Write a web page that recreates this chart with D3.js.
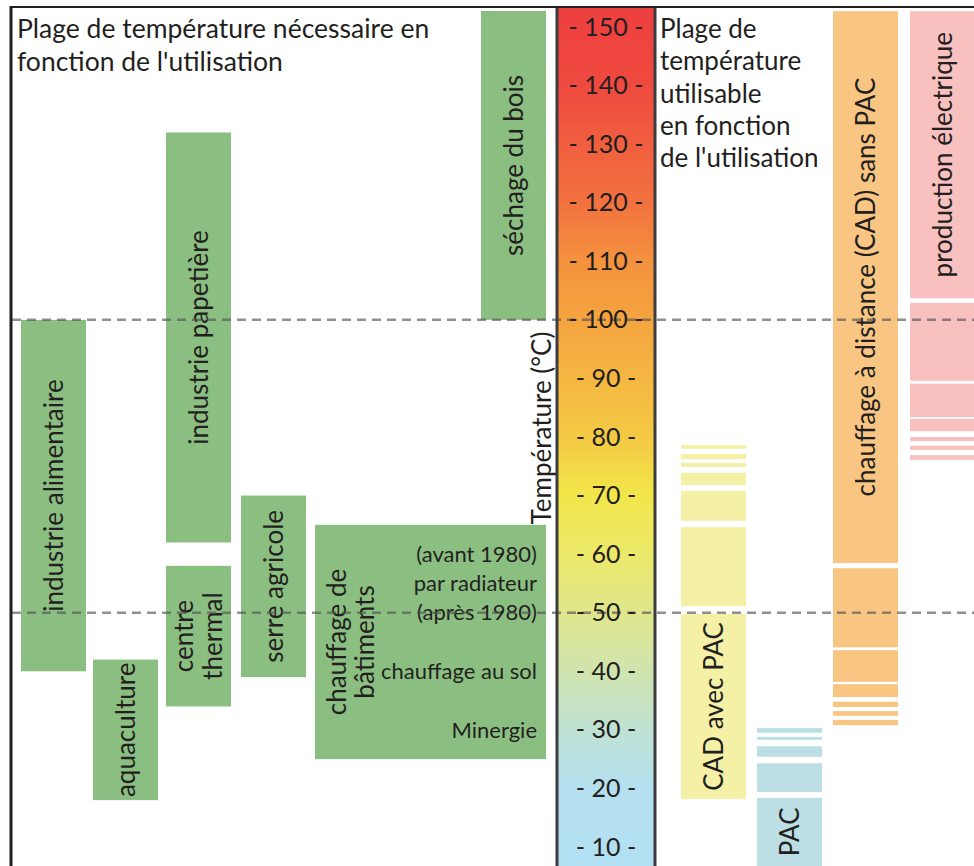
<!DOCTYPE html>
<html>
<head>
<meta charset="utf-8">
<script src="https://cdnjs.cloudflare.com/ajax/libs/d3/7.8.5/d3.min.js"></script>
<style>
  body { margin: 0; background: #fff; }
  text { font-family: Lato, "Open Sans", sans-serif; fill: #231f20; }
</style>
</head>
<body>
<div id="chart"></div>
<script>
// needed temperature ranges per use (°C)
const needNames = ["industrie alimentaire", "aquaculture", "industrie papetière", "centre\nthermal",
                   "serre agricole", "chauffage de\nbâtiments", "séchage du bois"];
const needLow  = [40, 18, 62, 34, 39, 25, 100];
const needHigh = [100, 42, 132, 58, 70, 65, 153];
const needLane = ["a", "b", "c", "c", "d", "e", "f"];

// notes inside the building heating box
const heatNotes = ["(avant 1980)", "par radiateur", "(après 1980)", "chauffage au sol", "Minergie"];
const heatNoteTemp = [60, 55, 50, 40, 30];

// usable temperature ranges (split in stripes)
const supplyNames = ["CAD avec PAC", "PAC", "chauffage à distance (CAD) sans PAC", "production électrique"];
const cadAvecPac = [[18.2, 49.8], [51.1, 64.6], [65.7, 70.8], [71.8, 73.9], [74.9, 75.6], [76.2, 77.1], [78.0, 78.6]];
const pac = [[5, 18.4], [19.4, 24.3], [25.4, 27.2], [28.3, 28.8], [29.5, 30.3]];
const cadSansPac = [[30.8, 31.7], [32.4, 33.2], [33.9, 34.8], [35.6, 37.8], [38.2, 43.6], [44.1, 57.6], [58.5, 152.7]];
const prodElec = [[76.1, 76.9], [77.8, 78.5], [79.3, 80.0], [81.0, 83.1], [83.4, 89.1], [89.6, 102.9], [103.7, 152.7]];
const supplyLabelSeg = [0, 0, 6, 6];

// temperature scale ticks
const tempTicks = d3.range(10, 151, 10);
const gradTemps  = [5, 20, 30, 40, 50, 60, 70, 80, 100, 110, 120, 140, 155];
const gradColors = ["#b3e0f3", "#b4e0ef", "#bfe2d4", "#d0e4ae", "#dfe68c", "#ece96a", "#f2e64a", "#f4c944", "#f5a43f", "#f4923e", "#f2723f", "#ef4a3f", "#ee3e3f"];

const width = 974, height = 866;

const svg = d3.select("#chart").append("svg")
    .attr("width", width)
    .attr("height", height);

const y = d3.scaleLinear().domain([10, 150]).range([847, 27]);

// lanes for the green boxes
const laneX = d3.scaleOrdinal().domain(["a", "b", "c", "d", "e", "f"]).range([21, 93, 166, 241, 315, 481]);
const laneW = 65;
const wideW = 231; // chauffage de bâtiments box
const supplyX = d3.scaleOrdinal().domain(supplyNames).range([681, 757, 833, 910]);

const colGreen = "#8bbf81";
const supplyColor = d3.scaleOrdinal().domain(supplyNames).range(["#f4f1a6", "#bcdfe5", "#f8c583", "#f8c0bf"]);

// gradient for the temperature column
const defs = svg.append("defs");
const grad = defs.append("linearGradient")
    .attr("id", "tempGrad")
    .attr("gradientUnits", "userSpaceOnUse")
    .attr("x1", 0).attr("x2", 0)
    .attr("y1", y(gradTemps[0])).attr("y2", y(gradTemps[gradTemps.length - 1]));
grad.selectAll("stop")
  .data(gradTemps)
  .enter().append("stop")
    .attr("offset", (d) => (d - gradTemps[0]) / (gradTemps[gradTemps.length - 1] - gradTemps[0]))
    .attr("stop-color", (d, i) => gradColors[i]);

svg.append("rect")
    .attr("x", 557).attr("y", 8)
    .attr("width", 98).attr("height", height - 8)
    .attr("fill", "url(#tempGrad)");

// green "need" boxes
const needData = needNames.map((n, i) => ({name: n, lo: needLow[i], hi: needHigh[i], lane: needLane[i], i: i}));
const boxW = (d) => d.i === 5 ? wideW : laneW;

svg.append("g").selectAll("rect")
  .data(needData)
  .enter().append("rect")
    .attr("x", (d) => laneX(d.lane))
    .attr("y", (d) => Math.max(y(d.hi), 11))
    .attr("width", boxW)
    .attr("height", (d) => y(d.lo) - Math.max(y(d.hi), 11))
    .attr("fill", colGreen);

// vertical labels of the green boxes
needData.forEach(function(d) {
  const lines = d.name.split("\n");
  let cx = laneX(d.lane) + laneW / 2;
  let cy = (Math.max(y(d.hi), 11) + y(d.lo)) / 2;
  if (d.i === 5) cx = laneX(d.lane) + 36;
  const t = svg.append("text")
      .attr("transform", `translate(${cx},${cy}) rotate(-90)`)
      .attr("text-anchor", "middle")
      .style("font-size", "26px");
  lines.forEach(function(l, k) {
    t.append("tspan")
      .attr("x", 0)
      .attr("dy", k === 0 ? (0.35 - (lines.length - 1) * 0.55) + "em" : "1.1em")
      .text(l);
  });
});

// notes in the building heating box
svg.append("g").selectAll("text")
  .data(heatNotes)
  .enter().append("text")
    .attr("x", laneX("e") + wideW - 9)
    .attr("y", (d, i) => y(heatNoteTemp[i]))
    .attr("dy", "0.35em")
    .attr("text-anchor", "end")
    .style("font-size", "22px")
    .text((d) => d);

// supply stripes
const supplySeries = [cadAvecPac, pac, cadSansPac, prodElec];
supplySeries.forEach(function(segs, s) {
  const name = supplyNames[s];
  svg.append("g").selectAll("rect")
    .data(segs)
    .enter().append("rect")
      .attr("x", supplyX(name))
      .attr("y", (d) => y(d[1]))
      .attr("width", s === 3 ? width - supplyX(name) : laneW)
      .attr("height", (d) => y(d[0]) - y(d[1]))
      .attr("fill", supplyColor(name));
  const seg = segs[supplyLabelSeg[s]];
  const cy = (Math.min(y(seg[0]), height) + y(seg[1])) / 2;
  svg.append("text")
      .attr("transform", `translate(${supplyX(name) + laneW / 2},${cy}) rotate(-90)`)
      .attr("text-anchor", "middle")
      .attr("dy", "0.35em")
      .style("font-size", "26px")
      .text(name);
});

// reference dashed lines at 100 and 50 °C
svg.append("g").selectAll("line")
  .data([100, 50])
  .enter().append("line")
    .attr("x1", 12).attr("x2", width)
    .attr("y1", (d) => y(d)).attr("y2", (d) => y(d))
    .attr("stroke", "#555")
    .attr("stroke-opacity", 0.65)
    .attr("stroke-width", 2.5)
    .attr("stroke-dasharray", "9,6");

// borders
svg.append("line").attr("x1", 557).attr("x2", 557).attr("y1", 7).attr("y2", height)
    .attr("stroke", "#3c3c3e").attr("stroke-width", 3);
svg.append("line").attr("x1", 655).attr("x2", 655).attr("y1", 7).attr("y2", height)
    .attr("stroke", "#3c3c3e").attr("stroke-width", 3);
svg.append("line").attr("x1", 11).attr("x2", 11).attr("y1", 6).attr("y2", height)
    .attr("stroke", "#231f20").attr("stroke-width", 3);
svg.append("line").attr("x1", 10).attr("x2", width).attr("y1", 7).attr("y2", 7)
    .attr("stroke", "#231f20").attr("stroke-width", 2);

// temperature ticks on the colour column
const axis = svg.append("g")
    .attr("transform", "translate(606,0)")
    .call(d3.axisRight(y).tickValues(tempTicks).tickSize(0).tickPadding(0).tickFormat((d) => `- ${d} -`));
axis.select(".domain").remove();
axis.selectAll("text")
    .attr("text-anchor", "middle")
    .attr("x", 0)
    .style("font-family", "Lato, sans-serif")
    .style("font-size", "25px")
    .attr("fill", "#231f20");

// axis title
svg.append("text")
    .attr("transform", `translate(542,${428}) rotate(-90)`)
    .attr("text-anchor", "middle")
    .attr("dy", "0.35em")
    .style("font-size", "26px")
    .text("Température (°C)");

// titles
const leftTitle = ["Plage de température nécessaire en", "fonction de l'utilisation"];
svg.append("g").selectAll("text")
  .data(leftTitle)
  .enter().append("text")
    .attr("x", 17)
    .attr("y", (d, i) => 38 + i * 33)
    .style("font-size", "26.5px")
    .text((d) => d);

const rightTitle = ["Plage de", "température", "utilisable", "en fonction", "de l'utilisation"];
svg.append("g").selectAll("text")
  .data(rightTitle)
  .enter().append("text")
    .attr("x", 660)
    .attr("y", (d, i) => 38 + i * 32.3)
    .style("font-size", "26px")
    .text((d) => d);
</script>
</body>
</html>
